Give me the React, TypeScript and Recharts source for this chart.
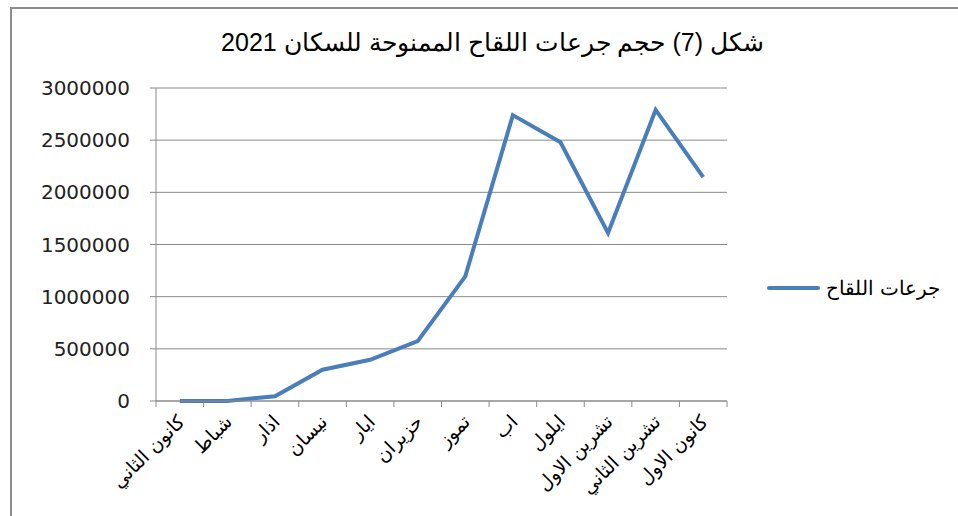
import { LineChart, Line, XAxis, YAxis, CartesianGrid } from "recharts";

const months = [
    "كانون الثاني", "شباط", "اذار", "نيسان", "ايار", "حزيران",
    "تموز", "اب", "ايلول", "تشرين الاول", "تشرين الثاني", "كانون الاول",
];
const doses = [0, 0, 46000, 300000, 395000, 574000, 1195000, 2740000, 2480000, 1610000, 2790000, 2145000];
const yTicks = [0, 500000, 1000000, 1500000, 2000000, 2500000, 3000000];
const seriesName = "جرعات اللقاح";
const title = "شكل (7) حجم جرعات اللقاح الممنوحة للسكان 2021";

const W = 958;
const H = 516;
const margin = { top: 88, right: 231, bottom: 15, left: 36 };
const Y_AXIS_W = 120;
const X_AXIS_H = 100;
const PLOT_LEFT = margin.left + Y_AXIS_W;
const PLOT_RIGHT = W - margin.right;
const PLOT_BOTTOM = H - margin.bottom - X_AXIS_H;
const BAND = (PLOT_RIGHT - PLOT_LEFT) / months.length;

const GRID = "#8a8a8a";
const BLUE = "#4a7ebb";

const data = months.map((m, i) => ({ month: m, value: doses[i] }));

function MonthTick(props: any) {
    const { x, payload } = props;
    const idx = payload.index ?? props.index;
    const tx = x + 6;
    const ty = PLOT_BOTTOM + 22;
    return (
        <g>
            <line x1={x - BAND / 2} y1={PLOT_BOTTOM} x2={x - BAND / 2} y2={PLOT_BOTTOM + 6} stroke={GRID} />
            {idx === months.length - 1 && (
                <line x1={x + BAND / 2} y1={PLOT_BOTTOM} x2={x + BAND / 2} y2={PLOT_BOTTOM + 6} stroke={GRID} />
            )}
            <text x={tx} y={ty} textAnchor="end" transform={`rotate(-45, ${tx}, ${ty})`}
                fontSize={19} fill="#000" fontFamily="'DejaVu Sans', sans-serif">
                {payload.value}
            </text>
        </g>
    );
}

export default function App() {
    return (
        <div style={{ position: "absolute", left: 0, top: 0, width: W, height: H, background: "#fff", overflow: "hidden" }}>
            <div style={{ position: "absolute", left: 10, top: 7, width: 980, height: 540, borderLeft: "2px solid #8c8c8c", borderTop: "2px solid #8c8c8c" }} />
            <div dir="rtl" style={{ position: "absolute", left: 0, width: 985, top: 28, textAlign: "center", fontFamily: "'Liberation Sans', Arial, sans-serif", fontSize: 25, lineHeight: "28px", color: "#000" }}>
                {title}
            </div>
            <LineChart width={W} height={H} data={data} margin={margin} style={{ position: "absolute", left: 0, top: 0 }}>
                <CartesianGrid vertical={false} stroke={GRID} strokeWidth={1} />
                <XAxis dataKey="month" scale="band" height={X_AXIS_H} interval={0} axisLine={{ stroke: GRID }}
                    tickLine={false} tick={<MonthTick />} />
                <YAxis width={Y_AXIS_W} domain={[0, 3000000]} ticks={yTicks} interval={0} axisLine={{ stroke: GRID }}
                    tickLine={{ stroke: GRID }} tickSize={6} tickMargin={20}
                    tick={{ fontSize: 20, fill: "#222", fontFamily: "'DejaVu Sans', sans-serif" }} />
                <Line type="linear" dataKey="value" name={seriesName} stroke={BLUE} strokeWidth={4}
                    dot={false} activeDot={false} isAnimationActive={false} />
            </LineChart>
            <div style={{ position: "absolute", left: 767, top: 276, display: "flex", alignItems: "center" }}>
                <div style={{ width: 53, height: 4, background: BLUE, borderRadius: 2 }} />
                <span dir="rtl" style={{ marginLeft: 6, fontFamily: "'Liberation Sans', Arial, sans-serif", fontSize: 20, color: "#000" }}>
                    {seriesName}
                </span>
            </div>
        </div>
    );
}
